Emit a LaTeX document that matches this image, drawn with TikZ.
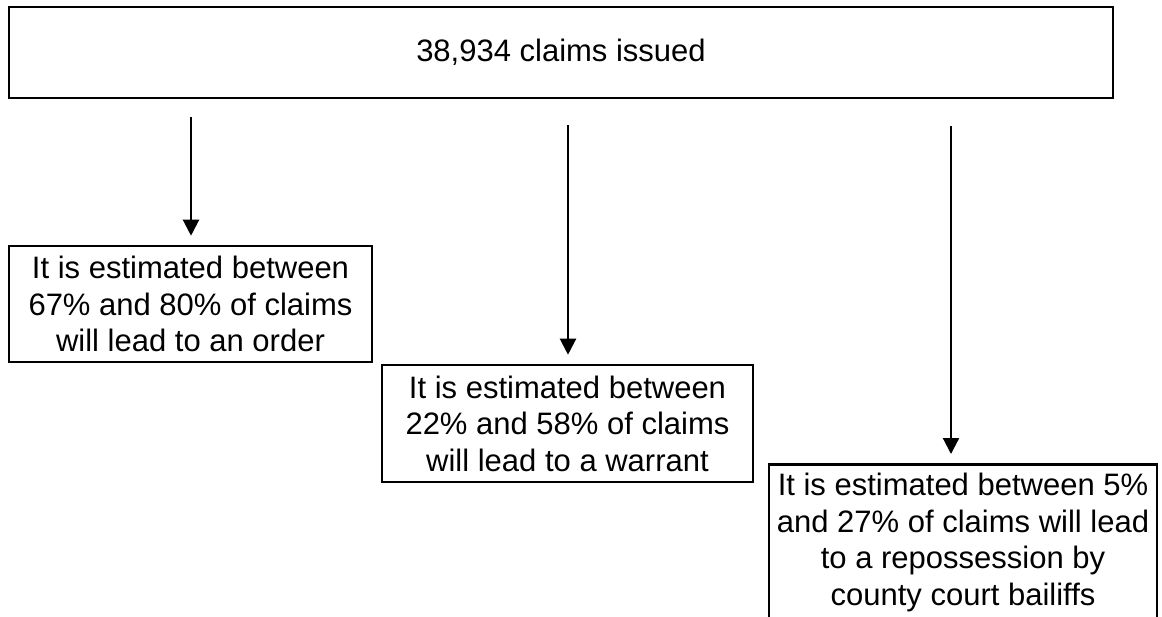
\documentclass[tikz,border=0pt]{standalone}
\usepackage{fontspec}
\setmainfont{Liberation Sans}
\usetikzlibrary{arrows.meta}
\begin{document}
\begin{tikzpicture}[x=1pt,y=-1pt,
  box/.style={draw=black,line width=2.6pt,align=center,inner sep=0pt,
    font=\fontsize{31}{36.5}\selectfont},
  arr/.style={draw=black,line width=2.2pt,-{Triangle[width=16pt,length=16pt]},shorten >=9pt}]
\useasboundingbox[fill=white] (0,0) rectangle (1162,616);
\node[box,minimum width=1104pt,minimum height=91pt] (top) at (561,52.5) {\raisebox{-4pt}{38,934 claims issued}};
\node[box,minimum width=363pt,minimum height=116pt] (b1) at (190.5,304) {It is estimated between\\67\% and 80\% of claims\\will lead to an order};
\node[box,minimum width=371pt,minimum height=117pt] (b2) at (567.5,423.5) {It is estimated between\\22\% and 58\% of claims\\will lead to a warrant};
\node[box,minimum width=388pt,minimum height=156pt,anchor=north] (b3) at (963,463) {It is estimated between 5\%\\and 27\% of claims will lead\\to a repossession by\\county court bailiffs};
\coordinate (s1) at (191,117);
\coordinate (s2) at (568,125);
\coordinate (s3) at (951,126);
\draw[arr] (s1) -- (s1 |- b1.north);
\draw[arr] (s2) -- (s2 |- b2.north);
\draw[arr] (s3) -- (s3 |- b3.north);
\end{tikzpicture}
\end{document}
